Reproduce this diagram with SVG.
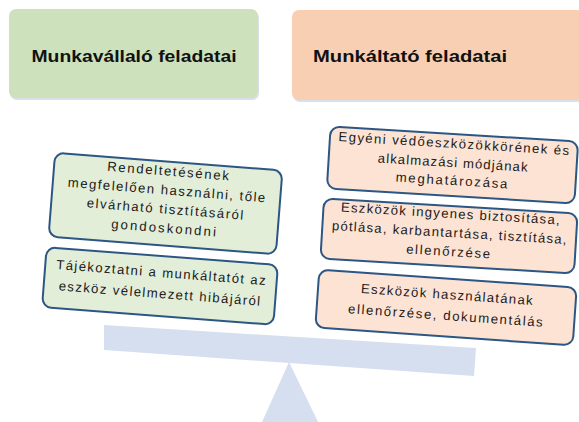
<svg xmlns="http://www.w3.org/2000/svg" width="579" height="422" viewBox="0 0 579 422">
<style>
.hdr{font-family:"Liberation Sans",Arial,sans-serif;font-weight:bold;font-size:17px;fill:#111;text-anchor:middle}
.t{font-family:"Liberation Sans",Arial,sans-serif;font-size:13.2px;fill:#1a1a1a;text-anchor:middle}
.g{fill:#e3eed9;stroke:#2c5684;stroke-width:2}
.o{fill:#fce3d4;stroke:#2c5684;stroke-width:2}
.scale{fill:#d5dfef}
</style>
<rect width="579" height="422" fill="#ffffff"/>
<g id="hdr-left">
<rect x="10" y="11" width="249" height="89" rx="7" fill="#d8e0ea"/>
<rect x="9" y="9" width="249" height="89" rx="7" fill="#cde1bc"/>
<text class="hdr" x="134" y="62" textLength="205" lengthAdjust="spacingAndGlyphs">Munkavállaló feladatai</text>
</g>
<g id="hdr-right">
<rect x="293" y="12" width="292" height="90" rx="7" fill="#d8e0ea"/>
<rect x="292" y="10" width="292" height="90" rx="7" fill="#f8cfb3"/>
<text class="hdr" x="410" y="62" textLength="194" lengthAdjust="spacingAndGlyphs">Munkáltató feladatai</text>
</g>
<g id="scale">
<polygon class="scale" points="104,325 476,348 474,376 104,350"/>
<polygon class="scale" points="289,362 318,422 262,422"/>
</g>
<g id="box1" transform="translate(165.5,203.5) rotate(4.5)">
<rect class="g" x="-114" y="-42" width="228" height="84" rx="9"/>
<text class="t" x="0" y="-28" textLength="122" lengthAdjust="spacing">Rendeltetésének</text>
<text class="t" x="0" y="-9" textLength="198" lengthAdjust="spacing">megfelelően használni, tőle</text>
<text class="t" x="0" y="10" textLength="157" lengthAdjust="spacing">elvárható tisztításáról</text>
<text class="t" x="0" y="29" textLength="105" lengthAdjust="spacing">gondoskondni</text>
</g>
<g id="box2" transform="translate(160,286) rotate(4.4)">
<rect class="g" x="-116" y="-30" width="232" height="60" rx="9"/>
<text class="t" x="0" y="-9" textLength="210" lengthAdjust="spacing">Tájékoztatni a munkáltatót az</text>
<text class="t" x="0" y="12" textLength="202" lengthAdjust="spacing">eszköz vélelmezett hibájáról</text>
</g>
<g id="box3" transform="translate(452.5,165) rotate(3.5)">
<rect class="o" x="-124" y="-31" width="248" height="62" rx="9"/>
<text class="t" x="0" y="-17" textLength="231" lengthAdjust="spacing">Egyéni védőeszközökkörének és</text>
<text class="t" x="0" y="2" textLength="150" lengthAdjust="spacing">alkalmazási módjának</text>
<text class="t" x="0" y="20" textLength="112" lengthAdjust="spacing">meghatározása</text>
</g>
<g id="box4" transform="translate(449,236) rotate(3.4)">
<rect class="o" x="-127" y="-30" width="254" height="60" rx="9"/>
<text class="t" x="0" y="-18" textLength="219" lengthAdjust="spacing">Eszközök ingyenes biztosítása,</text>
<text class="t" x="0" y="1" textLength="235" lengthAdjust="spacing">pótlása, karbantartása, tisztítása,</text>
<text class="t" x="0" y="20" textLength="84" lengthAdjust="spacing">ellenőrzése</text>
</g>
<g id="box5" transform="translate(446,307.5) rotate(4)">
<rect class="o" x="-129" y="-29" width="258" height="58" rx="9"/>
<text class="t" x="0" y="-8.5" textLength="172" lengthAdjust="spacing">Eszközök használatának</text>
<text class="t" x="0" y="12.5" textLength="195" lengthAdjust="spacing">ellenőrzése, dokumentálás</text>
</g>
</svg>
